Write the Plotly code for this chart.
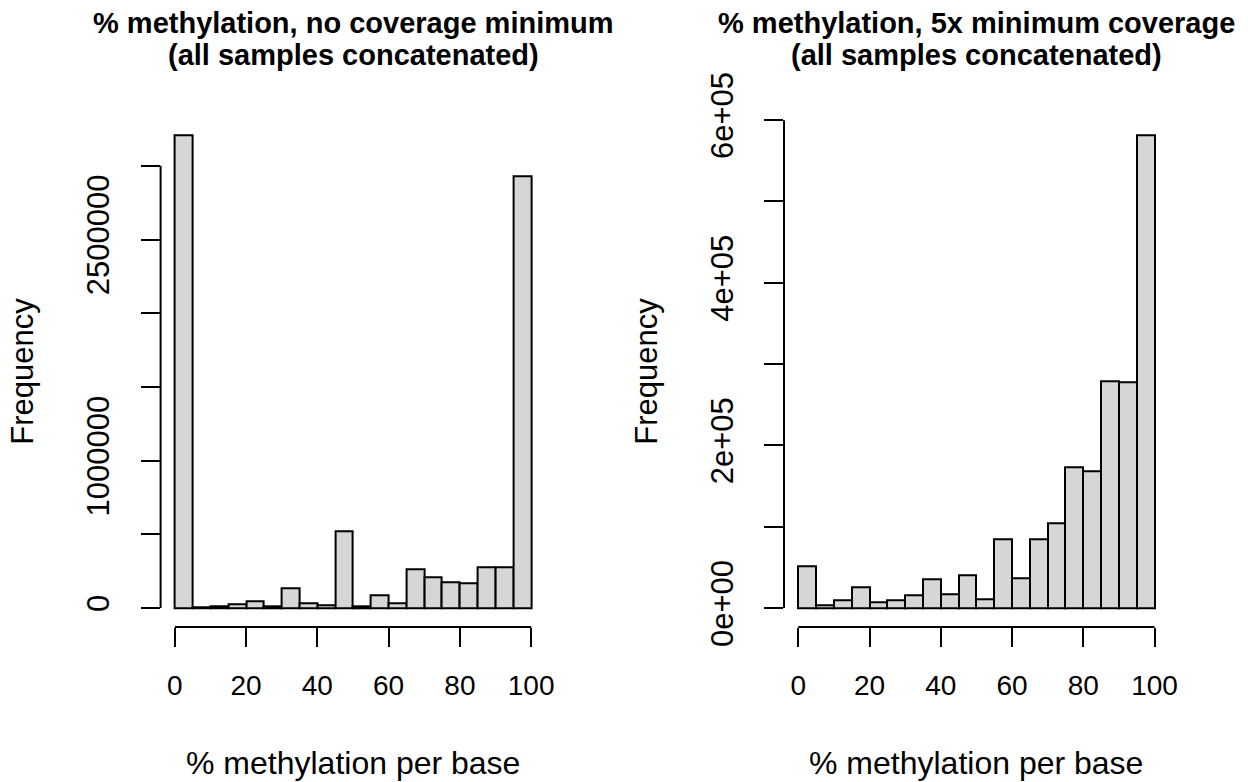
import plotly.graph_objects as go

# ---- data ----
bin_left = [0, 5, 10, 15, 20, 25, 30, 35, 40, 45, 50, 55, 60, 65, 70, 75, 80, 85, 90, 95]
bin_width = 5
counts_nomin = [3208000, 4500, 11000, 26000, 45000, 10000, 134000, 34000, 17000, 518000,
                10000, 85000, 35000, 263000, 210000, 172000, 167000, 277000, 277000, 2926000]
counts_5x = [51700, 4000, 9400, 25800, 7400, 9600, 16200, 35600, 17100, 40300,
             11200, 84800, 36800, 84000, 104000, 172900, 168200, 278900, 278000, 581500]

x_ticks = [0, 20, 40, 60, 80, 100]
x_ticklabels = ["0", "20", "40", "60", "80", "100"]
y1_ticks = [0, 500000, 1000000, 1500000, 2000000, 2500000, 3000000]
y1_ticklabels = ["0", "", "1000000", "", "", "2500000", ""]
y2_ticks = [0, 100000, 200000, 300000, 400000, 500000, 600000]
y2_ticklabels = ["0e+00", "", "2e+05", "", "4e+05", "", "6e+05"]

title1 = ["% methylation, no coverage minimum", "(all samples concatenated)"]
title2 = ["% methylation, 5x minimum coverage", "(all samples concatenated)"]
xlab = "% methylation per base"
ylab = "Frequency"

# ---- layout constants (pixels) ----
W, H = 1248, 782
FONT = "Liberation Sans, Arial, Helvetica, sans-serif"
BAR_FILL = "#D6D6D6"
LW = 2
TICKLEN = 19
dom1 = [160.6 / W, 545.4 / W]
dom2 = [784.0 / W, 1168.8 / W]
ydom = [1 - 627.0 / H, 1 - 116.3 / H]

centers = [b + bin_width / 2 for b in bin_left]

fig = go.Figure()
for counts, xa, ya in [(counts_nomin, "x", "y"), (counts_5x, "x2", "y2")]:
    fig.add_trace(go.Bar(
        x=centers, y=counts, width=[bin_width] * len(centers),
        marker=dict(color=BAR_FILL, line=dict(color="black", width=LW)),
        xaxis=xa, yaxis=ya, showlegend=False, hoverinfo="x+y",
    ))

def xaxis_cfg(domain, anchor):
    return dict(domain=domain, anchor=anchor, range=[-4, 104], showgrid=False, zeroline=False,
                showline=False, ticks="outside", ticklen=TICKLEN, tickwidth=LW, tickcolor="black",
                tickvals=x_ticks, ticktext=x_ticklabels, ticklabelstandoff=14, automargin=False,
                tickfont=dict(family=FONT, size=28, color="black"))

def yaxis_cfg(anchor, ymax, tv, tt):
    return dict(domain=ydom, anchor=anchor, range=[-0.04 * ymax, 1.04 * ymax], showgrid=False,
                zeroline=False, showline=False, ticks="outside", ticklen=TICKLEN, tickwidth=LW,
                tickcolor="black", tickvals=tv, ticktext=tt, tickangle=-90, ticklabelstandoff=19,
                automargin=False, tickfont=dict(family=FONT, size=31, color="black"))

fig.update_layout(
    template="none",
    width=W, height=H, margin=dict(l=0, r=0, t=0, b=0, pad=0, autoexpand=False),
    paper_bgcolor="white", plot_bgcolor="white", bargap=0,
    font=dict(family=FONT, color="black"),
    xaxis=xaxis_cfg(dom1, "y"),
    yaxis=yaxis_cfg("x", max(counts_nomin), y1_ticks, y1_ticklabels),
    xaxis2=xaxis_cfg(dom2, "y2"),
    yaxis2=yaxis_cfg("x2", max(counts_5x), y2_ticks, y2_ticklabels),
)

# R-style axis lines spanning first to last tick
for xa, ya, yt in [("x", "y", y1_ticks), ("x2", "y2", y2_ticks)]:
    fig.add_shape(type="line", xref=xa, yref=ya + " domain", x0=x_ticks[0], x1=x_ticks[-1],
                  y0=0, y1=0, line=dict(color="black", width=LW))
    fig.add_shape(type="line", xref=xa + " domain", yref=ya, x0=0, x1=0,
                  y0=yt[0], y1=yt[-1], line=dict(color="black", width=LW))

annos = []
for dom, title, ylab_x in [(dom1, title1, 23), (dom2, title2, 647)]:
    cx = (dom[0] + dom[1]) / 2
    annos.append(dict(text="<b>%s</b>" % title[0], x=cx, y=1 - 23 / H, xref="paper", yref="paper",
                      xanchor="center", yanchor="middle", showarrow=False,
                      font=dict(family=FONT, size=29, color="black")))
    annos.append(dict(text="<b>%s</b>" % title[1], x=cx, y=1 - 55 / H, xref="paper", yref="paper",
                      xanchor="center", yanchor="middle", showarrow=False,
                      font=dict(family=FONT, size=29, color="black")))
    annos.append(dict(text=xlab, x=cx, y=1 - 763 / H, xref="paper", yref="paper",
                      xanchor="center", yanchor="middle", showarrow=False,
                      font=dict(family=FONT, size=32, color="black")))
    annos.append(dict(text=ylab, x=ylab_x / W, y=(ydom[0] + ydom[1]) / 2, xref="paper", yref="paper",
                      xanchor="center", yanchor="middle", showarrow=False, textangle=-90,
                      font=dict(family=FONT, size=31, color="black")))
fig.update_layout(annotations=annos)

fig.write_html("out.html", config={"displayModeBar": False},
               post_script="document.body.style.margin='0';")
